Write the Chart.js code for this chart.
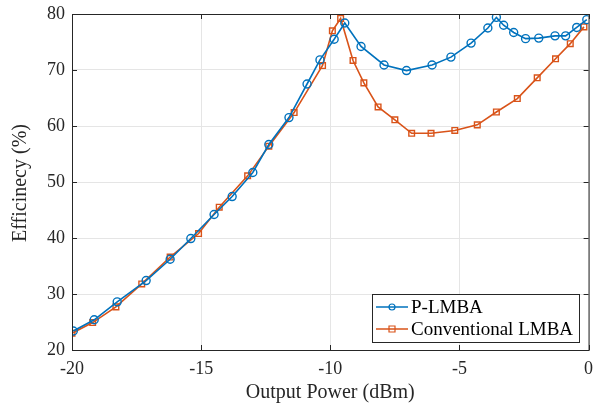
<!DOCTYPE html>
<html>
<head>
<meta charset="utf-8">
<script src="https://cdn.jsdelivr.net/npm/chart.js@4/dist/chart.umd.min.js"></script>
<style>
  html, body { margin: 0; padding: 0; background: #fff; }
  #wrap { width: 594px; height: 409px; }
</style>
</head>
<body>
<div id="wrap"><canvas id="effChart" width="594" height="409"></canvas></div>
<script>
// P-LMBA measured points
const plmbaX = [-19.95, -19.14, -18.25, -17.13, -16.2, -15.4, -14.5, -13.8, -13.0, -12.38, -11.6, -10.9, -10.4, -9.85, -9.44,
  -8.81, -7.92, -7.05, -6.06, -5.33, -4.55, -3.9, -3.57, -3.29, -2.9, -2.44, -1.93, -1.3, -0.89, -0.46, -0.07];
const plmbaY = [23.4, 25.4, 28.6, 32.4, 36.2, 39.9, 44.2, 47.4, 51.7, 56.7, 61.5, 67.5, 71.8, 75.5, 78.4,
  74.2, 70.9, 69.9, 70.9, 72.3, 74.8, 77.5, 79.4, 78.0, 76.7, 75.6, 75.7, 76.1, 76.1, 77.6, 79.0];

// Conventional LMBA measured points
const convX = [-20.0, -19.2, -18.3, -17.3, -16.2, -15.1, -14.3, -13.2, -12.38, -11.4, -10.3, -9.92, -9.6,
  -9.12, -8.7, -8.15, -7.5, -6.85, -6.1, -5.18, -4.31, -3.57, -2.76, -1.99, -1.28, -0.71, -0.18];
const convY = [23.0, 24.9, 27.7, 31.8, 36.6, 40.8, 45.5, 51.1, 56.4, 62.4, 70.8, 77.0, 79.2,
  71.7, 67.7, 63.4, 61.1, 58.7, 58.7, 59.2, 60.2, 62.5, 64.9, 68.6, 72.0, 74.7, 77.7];

const xTicks = [-20, -15, -10, -5, 0];
const yTicks = [20, 30, 40, 50, 60, 70, 80];
const seriesNames = ['P-LMBA', 'Conventional LMBA'];
const yTitle = 'Efficinecy (%)';
const blue = '#0072BD';
const orange = '#D95319';
const serif = '"Liberation Serif", "Times New Roman", serif';

const toPoints = (xs, ys) => xs.map((x, i) => ({ x: x, y: ys[i] }));

// MATLAB style box, inward ticks, y title and legend
const boxPlugin = {
  id: 'boxPlugin',
  afterDraw(chart) {
    const ctx = chart.ctx;
    const a = chart.chartArea;
    const xs = chart.scales.x, ys = chart.scales.y;
    ctx.save();
    ctx.strokeStyle = '#262626';
    ctx.lineWidth = 1;
    ctx.strokeRect(a.left + 0.5, a.top + 0.5, a.right - a.left, a.bottom - a.top);
    ctx.beginPath();
    xTicks.forEach(v => {
      const px = Math.round(xs.getPixelForValue(v)) + 0.5;
      ctx.moveTo(px, a.bottom); ctx.lineTo(px, a.bottom - 5);
      ctx.moveTo(px, a.top); ctx.lineTo(px, a.top + 5);
    });
    yTicks.forEach(v => {
      const py = Math.round(ys.getPixelForValue(v)) + 0.5;
      ctx.moveTo(a.left, py); ctx.lineTo(a.left + 5, py);
      ctx.moveTo(a.right, py); ctx.lineTo(a.right - 5, py);
    });
    ctx.stroke();

    // y axis title
    ctx.save();
    ctx.translate(21, (a.top + a.bottom) / 2 + 1);
    ctx.rotate(-Math.PI / 2);
    ctx.font = '20px ' + serif;
    ctx.fillStyle = '#262626';
    ctx.textAlign = 'center';
    ctx.textBaseline = 'middle';
    ctx.fillText(yTitle, 0, 0);
    ctx.restore();

    // legend box
    const lx = 372, ly = 294, lw = 207, lh = 48;
    ctx.fillStyle = '#fff';
    ctx.fillRect(lx, ly, lw, lh);
    ctx.strokeStyle = '#262626';
    ctx.strokeRect(lx + 0.5, ly + 0.5, lw, lh);
    ctx.font = '19px ' + serif;
    ctx.textBaseline = 'middle';
    const rows = [ly + 13, ly + 35];
    [blue, orange].forEach((c, i) => {
      const y = rows[i];
      ctx.strokeStyle = c;
      ctx.lineWidth = 1.5;
      ctx.beginPath();
      ctx.moveTo(lx + 4, y); ctx.lineTo(lx + 36, y);
      ctx.stroke();
      ctx.lineWidth = 1.2;
      ctx.beginPath();
      if (i === 0) ctx.arc(lx + 20, y, 3, 0, Math.PI * 2);
      else ctx.rect(lx + 17, y - 3, 6, 6);
      ctx.stroke();
      ctx.fillStyle = '#000';
      ctx.fillText(seriesNames[i], lx + 39, y + 1);
    });
    ctx.restore();
  }
};

new Chart(document.getElementById('effChart').getContext('2d'), {
  type: 'scatter',
  data: {
    datasets: [{
      label: seriesNames[0],
      data: toPoints(plmbaX, plmbaY),
      showLine: true,
      borderColor: blue,
      borderWidth: 1.6,
      pointStyle: 'circle',
      pointRadius: 4,
      pointBorderWidth: 1.4,
      pointBorderColor: blue,
      pointBackgroundColor: 'rgba(0,0,0,0)',
      tension: 0
    }, {
      label: seriesNames[1],
      data: toPoints(convX, convY),
      showLine: true,
      borderColor: orange,
      borderWidth: 1.6,
      pointStyle: 'rect',
      pointRadius: 4,
      pointBorderWidth: 1.4,
      pointBorderColor: orange,
      pointBackgroundColor: 'rgba(0,0,0,0)',
      tension: 0
    }]
  },
  options: {
    responsive: false,
    animation: false,
    layout: { padding: { top: 14, right: 4, left: 0, bottom: 0 } },
    plugins: { legend: { display: false }, tooltip: { enabled: false } },
    scales: {
      x: {
        type: 'linear',
        min: -20, max: 0,
        afterBuildTicks: s => { s.ticks = xTicks.map(v => ({ value: v })); },
        afterFit: s => { s.height = 59; s.paddingLeft = 0; s.paddingRight = 0; },
        grid: { color: '#e5e5e5', drawTicks: false },
        border: { display: false },
        ticks: { padding: 8, color: '#262626', font: { family: serif, size: 18 } },
        title: { display: true, text: 'Output Power (dBm)', color: '#262626', padding: { top: 2 }, font: { family: serif, size: 20 } }
      },
      y: {
        min: 20, max: 80,
        afterBuildTicks: s => { s.ticks = yTicks.map(v => ({ value: v })); },
        afterFit: s => { s.width = 72; s.paddingTop = 0; s.paddingBottom = 0; },
        grid: { color: '#e5e5e5', drawTicks: false },
        border: { display: false },
        ticks: { padding: 7, color: '#262626', font: { family: serif, size: 18 } }
      }
    }
  },
  plugins: [boxPlugin]
});
</script>
</body>
</html>
